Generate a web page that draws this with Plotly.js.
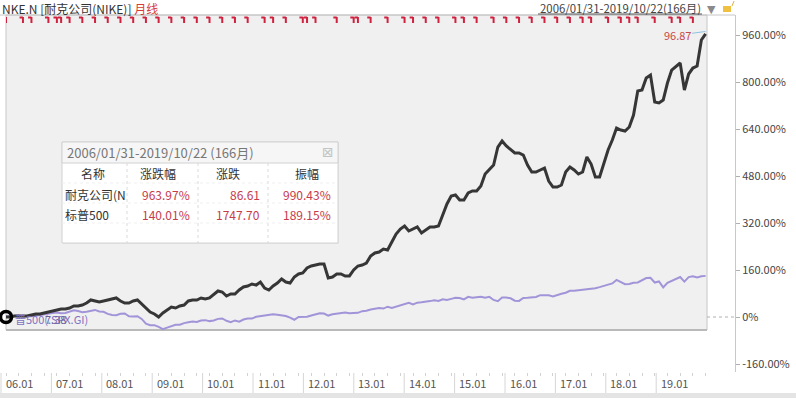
<!DOCTYPE html>
<html><head><meta charset="utf-8">
<script src="https://cdn.plot.ly/plotly-3.0.1.min.js"></script>
<style>html,body{margin:0;padding:0;background:#fff;}#chart{width:796px;height:398px;}</style>
</head><body><div id="chart"></div>
<script>
// ---- data ----
const nikePct = [
0,0,3.4,3.4,3.4,3.4,6.8,10.2,10.2,13.6,17.0,20.4,
23.8,27.2,27.2,30.6,37.4,37.4,40.8,47.7,57.9,54.5,51.1,54.5,
57.9,61.3,64.7,54.5,47.7,47.7,54.5,57.9,44.3,30.6,17.0,10.2,
0,13.6,23.8,34.0,30.6,37.4,40.8,54.5,57.9,57.9,64.7,61.3,
64.7,78.3,88.5,85.1,71.5,78.3,78.3,91.9,102.1,105.5,112.3,108.9,
119.1,98.7,91.9,105.5,115.7,129.4,119.1,115.7,136.2,146.4,149.8,166.8,
173.6,177.0,180.4,180.4,132.8,136.2,146.4,146.4,139.6,139.6,160.0,173.6,
177.0,183.8,207.6,217.9,221.3,231.5,228.1,255.3,282.5,299.6,309.8,292.7,
299.6,306.4,285.9,296.1,306.4,306.4,309.8,347.2,384.7,411.9,415.3,398.3,
398.3,422.1,428.9,428.9,445.9,486.8,503.8,517.4,578.7,599.1,582.1,568.5,
558.3,558.3,551.4,517.4,493.6,493.6,500.4,507.2,462.9,442.5,442.5,449.3,
493.6,510.6,500.4,486.8,493.6,544.6,520.8,476.6,476.6,520.8,568.5,602.5,
643.4,636.5,633.1,646.8,687.6,769.3,772.7,813.6,823.8,731.9,728.5,738.7,
796.5,840.8,854.4,864.6,772.7,827.2,847.6,854.4,942.9,963.97];
const spxPct = [
2.5,2.6,3.7,5.0,1.7,1.7,2.3,4.5,7.0,10.4,12.2,13.6,
15.2,12.7,13.8,18.7,22.6,20.4,16.6,18.1,22.3,24.1,18.6,17.6,
10.5,6.6,6.0,11.0,12.2,2.5,1.5,2.8,-6.6,-22.4,-28.2,-27.7,
-33.8,-41.1,-36.1,-30.1,-26.4,-26.4,-20.9,-18.2,-15.3,-17.0,-12.2,-10.7,
-14.0,-11.6,-6.4,-4.9,-12.8,-17.4,-11.7,-16.0,-8.6,-5.2,-5.4,0.8,
3.0,6.3,6.2,9.3,7.7,5.8,3.5,-2.3,-9.4,0.4,-0.1,0.8,
5.1,9.4,12.8,12.0,4.9,9.1,10.5,12.7,15.4,13.1,13.4,14.2,
20.0,21.4,25.7,28.0,30.7,28.7,35.1,30.8,34.7,40.8,44.7,48.0,
42.8,48.9,50.0,50.9,54.1,57.0,54.7,60.5,58.0,61.7,65.7,64.9,
59.8,68.6,65.7,67.1,68.8,65.3,68.6,58.0,53.8,66.5,66.6,63.7,
55.4,54.8,65.0,65.4,68.0,68.2,74.2,73.9,73.7,70.3,76.2,79.4,
82.6,89.4,89.3,91.0,93.2,94.1,97.9,98.0,101.8,106.3,112.1,114.2,
126.2,117.4,111.6,112.1,116.7,117.7,125.6,132.5,133.4,117.3,121.1,100.8,
116.6,123.0,127.0,136.0,120.5,135.7,138.7,134.4,138.5,140.01];
const yearLabels = ['06.01','07.01','08.01','09.01','10.01','11.01','12.01','13.01','14.01','15.01','16.01','17.01','18.01','19.01'];
const yTickVals = [-160,0,160,320,480,640,800,960];
const yTickText = ['-160.00%','0%','160.00%','320.00%','480.00%','640.00%','800.00%','960.00%'];
const divMonths = [0,4,6,10,12,13,15,18,21,24,27,30,33,36,39,42,45,48,51,54,57,61,63,66,70,71,73,78,82,83,86,90,94,96,99,102,106,108,111,115,118,121,124,127,130,133,136,138,142,145,147,149,153,157,159,162];
const titleCode = 'NKE.N';
const titleName = '[耐克公司(NIKE)]';
const titlePeriodType = '月线';
const periodText = '2006/01/31-2019/10/22(166月)';
const lastPrice = '96.87';
const spxLegend = '普500(.SPX.GI)';
const spxLegendVal = '7.38';
const tableTitle = '2006/01/31-2019/10/22 (166月)';
const colHeads = ['名称','涨跌幅','涨跌','振幅'];
const rowNames = ['耐克公司(N','标普500'];
const rowChgPct = ['963.97%','140.01%'];
const rowChg = ['86.61','1747.70'];
const rowAmp = ['990.43%','189.15%'];

// ---- layout helpers (pixels -> paper) ----
const L=6, R=735, T=15, B=372;
const px = p => (p-L)/(R-L);
const py = p => (B-p)/(B-T);
const idx = nikePct.map((_,i)=>i);
const FONT = '"Noto Sans CJK SC", "Noto Sans", sans-serif';

const shapes = [];
const ann = [];

// gray plotting panel
shapes.push({type:'rect',xref:'paper',yref:'paper',x0:0,x1:px(707),y0:py(330),y1:py(15),fillcolor:'#f0f0f0',line:{color:'#c6c6c6',width:1},layer:'below'});
shapes.push({type:'line',xref:'paper',yref:'paper',x0:0,x1:px(707),y0:py(330),y1:py(330),line:{color:'#b9b9b9',width:2},layer:'below'});
shapes.push({type:'line',xref:'paper',yref:'paper',x0:px(0),x1:1,y0:py(15),y1:py(15),line:{color:'#c6c6c6',width:1},layer:'below'});
// 0% dotted stub in right gap
shapes.push({type:'line',xref:'paper',yref:'y',x0:px(707),x1:1,y0:0,y1:0,line:{color:'#b0b0b0',width:1,dash:'dot'}});
// dividend marks
divMonths.forEach(m=>{
  shapes.push({type:'line',xref:'x',yref:'paper',x0:m-0.8,x1:m,y0:py(17.5),y1:py(17.5),line:{color:'#d0213f',width:2}});
  shapes.push({type:'line',xref:'x',yref:'paper',x0:m,x1:m,y0:py(17),y1:py(23),line:{color:'#d0213f',width:2}});
});
// bottom date band
yearLabels.forEach((t,k)=>{
  const xp = 1+50.4*k;
  shapes.push({type:'line',xref:'paper',yref:'paper',x0:px(xp),x1:px(xp),y0:py(373),y1:py(393),line:{color:'#d6d6d6',width:1}});
  ann.push({xref:'paper',yref:'paper',x:px(xp+2.5),y:py(383),xanchor:'left',yanchor:'middle',text:t,showarrow:false,font:{size:11,color:'#555',family:FONT}});
});
shapes.push({type:'rect',xref:'paper',yref:'paper',x0:px(0),x1:px(796),y0:py(393),y1:py(398),fillcolor:'#e4e4e4',line:{width:0}});

// header
ann.push({xref:'paper',yref:'paper',x:px(0),y:py(8),xanchor:'left',yanchor:'middle',showarrow:false,
  text:titleCode+' '+titleName+' <span style="color:#d83a3a">'+titlePeriodType+'</span>',font:{size:12,color:'#333',family:FONT}});
ann.push({xref:'paper',yref:'paper',x:px(538),y:py(8),xanchor:'left',yanchor:'middle',showarrow:false,text:periodText,font:{size:11.4,color:'#444',family:FONT}});
shapes.push({type:'line',xref:'paper',yref:'paper',x0:px(538),x1:px(702),y0:py(14),y1:py(14),line:{color:'#555',width:1}});
ann.push({xref:'paper',yref:'paper',x:px(711),y:py(9),xanchor:'center',yanchor:'middle',showarrow:false,text:'▼',font:{size:11,color:'#8a8a8a',family:'DejaVu Sans'}});
shapes.push({type:'rect',xref:'paper',yref:'paper',x0:px(723),x1:px(731),y0:py(12),y1:py(6),fillcolor:'#f0c040',line:{width:0}});
shapes.push({type:'line',xref:'paper',yref:'paper',x0:px(732),x1:px(734),y0:py(6),y1:py(1),line:{color:'#e0b040',width:1}});

// last price label + arrow
ann.push({xref:'paper',yref:'paper',x:px(677),y:py(35),xanchor:'center',yanchor:'middle',showarrow:false,text:lastPrice,font:{size:11,color:'#c84848',family:FONT}});
ann.push({xref:'x',yref:'y',x:idx[idx.length-1],y:nikePct[nikePct.length-1]+8,ax:-15,ay:2,showarrow:true,arrowhead:0,arrowwidth:1,arrowcolor:'#8cc4e0',text:''});

// legend label at start
ann.push({xref:'paper',yref:'paper',x:px(13),y:py(319),xanchor:'left',yanchor:'middle',showarrow:false,text:spxLegend,font:{size:11,color:'#8070c0',family:FONT}});
ann.push({xref:'paper',yref:'paper',x:px(43),y:py(319),xanchor:'left',yanchor:'middle',showarrow:false,text:spxLegendVal,font:{size:11,color:'#6a5e9a',family:FONT}});

// info table
shapes.push({type:'rect',xref:'paper',yref:'paper',x0:px(63),x1:px(339),y0:py(244),y1:py(143),fillcolor:'#e6e6e6',line:{width:0}});
shapes.push({type:'rect',xref:'paper',yref:'paper',x0:px(62),x1:px(338),y0:py(243),y1:py(142),fillcolor:'#ffffff',line:{color:'#d2d2d2',width:1}});
shapes.push({type:'rect',xref:'paper',yref:'paper',x0:px(62),x1:px(338),y0:py(163),y1:py(142),fillcolor:'#f6f6f6',line:{color:'#d2d2d2',width:1}});
[127,198,268].forEach(xc=>shapes.push({type:'line',xref:'paper',yref:'paper',x0:px(xc),x1:px(xc),y0:py(163),y1:py(243),line:{color:'#dadada',width:1,dash:'dot'}}));
[183,203,223].forEach(yc=>shapes.push({type:'line',xref:'paper',yref:'paper',x0:px(62),x1:px(338),y0:py(yc),y1:py(yc),line:{color:'#efefef',width:1,dash:'dot'}}));
ann.push({xref:'paper',yref:'paper',x:px(65),y:py(152),xanchor:'left',yanchor:'middle',showarrow:false,text:tableTitle,font:{size:13,color:'#777',family:FONT}});
ann.push({xref:'paper',yref:'paper',x:px(328),y:py(152),xanchor:'center',yanchor:'middle',showarrow:false,text:'⊠',font:{size:14,color:'#c4c4c4',family:'DejaVu Sans'}});
const headX=[93,158,228,307];
colHeads.forEach((h,i)=>ann.push({xref:'paper',yref:'paper',x:px(headX[i]),y:py(173),xanchor:'center',yanchor:'middle',showarrow:false,text:h,font:{size:12,color:'#333',family:FONT}}));
const rowY=[194,214];
rowNames.forEach((n,r)=>{
  ann.push({xref:'paper',yref:'paper',x:px(63),y:py(rowY[r]),xanchor:'left',yanchor:'middle',showarrow:false,text:n,font:{size:12,color:'#333',family:FONT}});
  [[rowChgPct,192],[rowChg,262],[rowAmp,333]].forEach(([arr,xr])=>{
    ann.push({xref:'paper',yref:'paper',x:px(xr),y:py(rowY[r]),xanchor:'right',yanchor:'middle',showarrow:false,text:arr[r],font:{size:12,color:'#c8394a',family:FONT}});
  });
});

const traces = [
  {x:idx,y:spxPct,type:'scatter',mode:'lines',line:{color:'#a294d8',width:2},hoverinfo:'skip'},
  {x:idx,y:nikePct,type:'scatter',mode:'lines',line:{color:'#363636',width:3},hoverinfo:'skip'},
  {x:[idx[0]],y:[nikePct[0]],type:'scatter',mode:'markers',marker:{symbol:'circle-open',size:11,color:'#000',line:{width:3.5,color:'#000'}},cliponaxis:false,hoverinfo:'skip'}
];

const minorTicks = []; for(let m=0;m<=165;m+=3) minorTicks.push(m);

const layout = {
  width:796,height:398,
  margin:{l:L,r:796-R,t:T,b:398-B,pad:0},
  paper_bgcolor:'#ffffff',plot_bgcolor:'rgba(0,0,0,0)',
  showlegend:false,
  font:{family:FONT,size:11,color:'#444'},
  xaxis:{range:[0,(R-L)/4.24],showgrid:false,zeroline:false,showline:false,showticklabels:false,
    ticks:'outside',tickvals:minorTicks,ticklen:3,tickcolor:'#d2d2d2',fixedrange:true},
  yaxis:{side:'right',range:[(317-B)/0.29375,(317-T)/0.29375],tickvals:yTickVals,ticktext:yTickText,
    showgrid:false,zeroline:false,showline:true,linecolor:'#c8c8c8',linewidth:1,ticks:'outside',ticklen:4,tickcolor:'#b0b0b0',
    tickfont:{size:11,color:'#444',family:FONT},fixedrange:true},
  shapes:shapes,annotations:ann
};
Plotly.newPlot('chart',traces,layout,{displayModeBar:false,staticPlot:true});
</script></body></html>
